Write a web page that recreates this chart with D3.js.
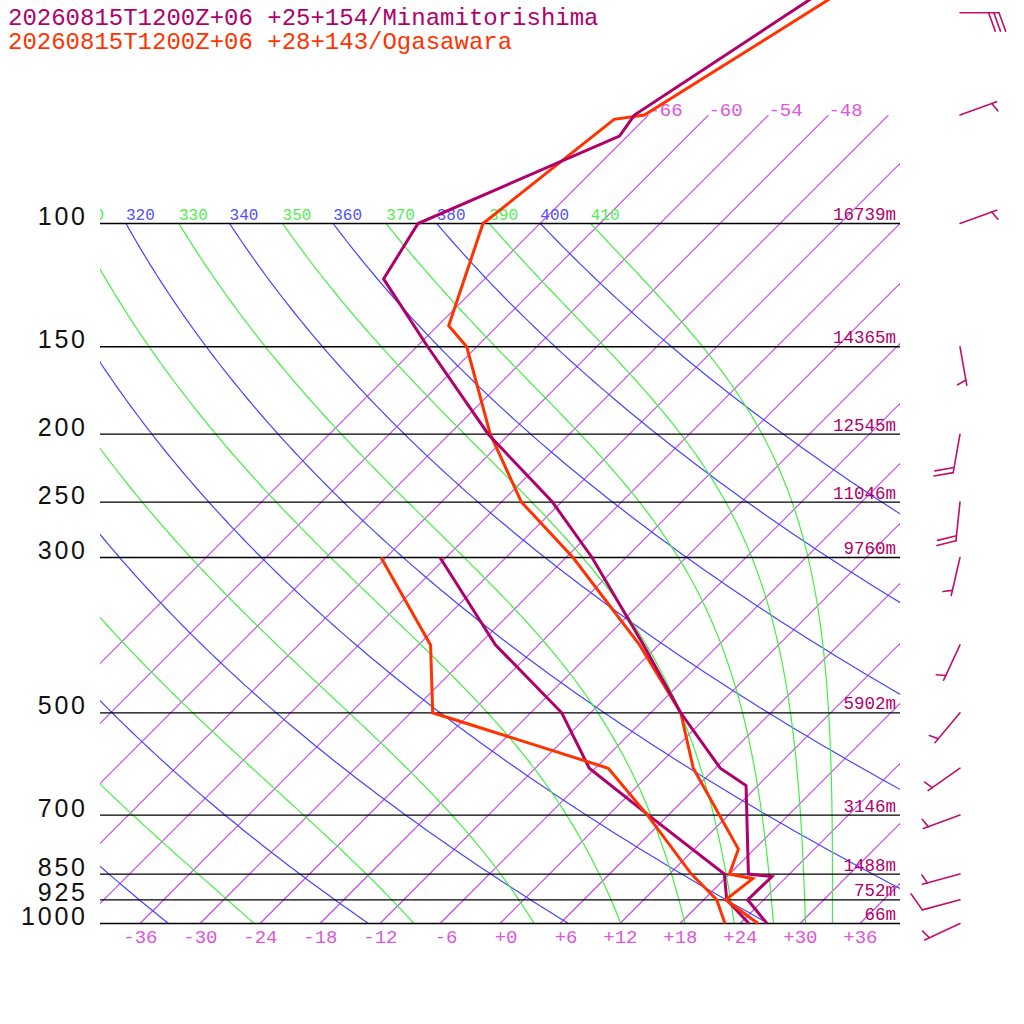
<!DOCTYPE html>
<html><head><meta charset="utf-8">
<script src="https://cdn.jsdelivr.net/npm/d3@7"></script>
<style>
html,body{margin:0;padding:0;background:#fff;}
svg{display:block;}
.mono{font-family:"Liberation Mono","DejaVu Sans Mono",monospace;}
.plab{font-family:"Liberation Sans","Arial",sans-serif;}
</style></head>
<body>
<script>
// ---------------- data ----------------
const titles = ["20260815T1200Z+06 +25+154/Minamitorishima", "20260815T1200Z+06 +28+143/Ogasawara"];
const pressureLevels = [100, 150, 200, 250, 300, 500, 700, 850, 925, 1000];
const heightLabels = ["16739m", "14365m", "12545m", "11046m", "9760m", "5902m", "3146m", "1488m", "752m", "66m"];
const isotherms = [-66, -60, -54, -48, -42, -36, -30, -24, -18, -12, -6, 0, 6, 12, 18, 24, 30, 36];
const isothermTopLabels = [-66, -60, -54, -48];
const bottomTicks = [-36, -30, -24, -18, -12, -6, 0, 6, 12, 18, 24, 30, 36];
const dryAdiabats = [240, 260, 280, 300, 320, 340, 360, 380, 400];
const moistAdiabats = [250, 270, 290, 310, 330, 350, 370, 390, 410];
const dryLabels = [320, 340, 360, 380, 400];
const moistLabels = [310, 330, 350, 370, 390, 410];

// Minamitorishima
const s1TempP = [1000, 925, 857, 850, 635, 600, 500, 400, 300, 250, 200, 150, 120, 100, 75, 70, 50, 30];
const s1Temp  = [26.7, 22.4, 22.5, 19.9, 10.8, 6.5, -3.0, -13.5, -27.4, -36.9, -50.1, -64.9, -76.1, -78.2, -66.8, -67.4, -62.1, -54.0];
const s1DewP  = [1000, 925, 850, 700, 600, 500, 400, 300];
const s1Dew   = [24.9, 20.3, 17.5, 4.0, -6.6, -14.9, -28.3, -42.6];
// Ogasawara
const s2TempP = [1000, 925, 863, 850, 783, 600, 500, 400, 300, 250, 200, 150, 140, 100, 71, 70, 50, 30];
const s2Temp  = [25.8, 20.2, 20.8, 18.0, 16.4, 3.8, -3.0, -13.9, -29.3, -40.0, -49.9, -61.0, -64.9, -71.7, -69.0, -66.4, -60.3, -51.2];
const s2DewP  = [1000, 925, 850, 700, 600, 500, 400, 300];
const s2Dew   = [22.5, 19.3, 14.2, 3.9, -4.7, -27.8, -34.8, -48.5];
// winds (Minamitorishima)
const windP   = [1000, 925, 850, 700, 600, 500, 400, 300, 250, 200, 150, 100, 70, 50];
const windDir = [245, 255, 255, 250, 235, 220, 205, 193, 186, 190, 170, 70, 70, 90];
const windSpd = [5, 10, 5, 5, 5, 5, 5, 5, 20, 20, 5, 5, 5, 30];

const colS1 = "#b0006a", colS2 = "#ff3300";
const colIso = "#c840f0", colIsoTxt = "#dd55dd", colDry = "#4444ff", colMoist = "#44ee44";

// ---------------- scales ----------------
const yScale = d3.scaleLog().domain([1000, 100]).range([923.5, 223.5]);
const tScale = d3.scaleLinear().domain([0, 10]).range([500, 600]);
const skewX = (T, p) => tScale(T) + (yScale(1000) - yScale(p));

const svg = d3.select("body").append("svg").attr("width", 1024).attr("height", 1024);
svg.append("rect").attr("width", 1024).attr("height", 1024).attr("fill", "#fff");
const defs = svg.append("defs");
defs.append("clipPath").attr("id", "plot").append("rect").attr("x", 100).attr("y", 0).attr("width", 800).attr("height", 924);

const grid = svg.append("g").attr("clip-path", "url(#plot)");
const line = d3.line().x(d => skewX(d.T, d.p)).y(d => yScale(d.p));

// sampling pressures for curves
const logP = d3.range(0, 121).map(i => Math.exp(Math.log(1000) + (Math.log(100) - Math.log(1000)) * i / 120));

// isotherms (1000 -> 70 hPa)
isotherms.forEach(T => {
  grid.append("path").attr("d", line([{T, p: 1000}, {T, p: 70}]))
    .attr("fill", "none").attr("stroke", colIso).attr("stroke-width", 1.1);
});

// dry adiabats
const K = 273.15;
dryAdiabats.forEach(th => {
  const pts = logP.map(p => ({p, T: th * Math.pow(p / 1000, 0.2857) - K}));
  grid.append("path").attr("d", line(pts)).attr("fill", "none").attr("stroke", colDry).attr("stroke-width", 1.2);
});

// moist adiabats (Bolton theta-e)
function thetaE(Tk, p) {
  const Tc = Tk - K;
  const es = 6.112 * Math.exp(17.67 * Tc / (Tc + 243.5));
  if (es >= p * 0.9) return 1e9;
  const r = 622 * es / (p - es);
  return Tk * Math.pow(1000 / p, 0.2854 * (1 - 0.28e-3 * r)) * Math.exp((3.376 / Tk - 0.00254) * r * (1 + 0.81e-3 * r));
}
function moistT(te, p) {
  let lo = 120, hi = 340;
  for (let i = 0; i < 60; i++) {
    const mid = (lo + hi) / 2;
    if (thetaE(mid, p) > te) hi = mid; else lo = mid;
  }
  return (lo + hi) / 2 - K;
}
moistAdiabats.forEach(te => {
  const pts = logP.map(p => ({p, T: moistT(te, p)}));
  grid.append("path").attr("d", line(pts)).attr("fill", "none").attr("stroke", colMoist).attr("stroke-width", 1.2);
});

// pressure lines
pressureLevels.forEach(p => {
  svg.append("line").attr("x1", 100).attr("x2", 900).attr("y1", yScale(p)).attr("y2", yScale(p))
    .attr("stroke", "#000").attr("stroke-width", 1.3);
});

// theta labels at 100 hPa
const labG = svg.append("g").attr("clip-path", "url(#plot)");
dryLabels.forEach(th => {
  labG.append("text").attr("class", "mono").attr("x", skewX(th * Math.pow(0.1, 0.2857) - K, 100)).attr("y", 219.5)
    .attr("font-size", 16).attr("fill", "#5050ff").text(th);
});
moistLabels.forEach(te => {
  labG.append("text").attr("class", "mono").attr("x", skewX(moistT(te, 100), 100)).attr("y", 219.5)
    .attr("font-size", 16).attr("fill", "#50ee50").text(te);
});
// isotherm labels at top (70 hPa)
isothermTopLabels.forEach(T => {
  svg.append("text").attr("class", "mono").attr("x", skewX(T, 70)).attr("y", yScale(70) + 1)
    .attr("font-size", 19).attr("fill", colIsoTxt).text(T > 0 ? "+" + T : (T === 0 ? "+0" : String(T)));
});
// bottom ticks
bottomTicks.forEach(T => {
  svg.append("text").attr("class", "mono").attr("x", skewX(T, 1000) + 17.5).attr("y", 943)
    .attr("text-anchor", "end").attr("font-size", 19).attr("fill", colIsoTxt)
    .text(T >= 0 ? "+" + T : String(T));
});
// pressure labels
pressureLevels.forEach(p => {
  svg.append("text").attr("class", "plab").attr("x", 87.8).attr("y", yScale(p) + 1.5)
    .attr("text-anchor", "end").attr("font-size", 25).attr("letter-spacing", 2.8).attr("fill", "#111").text(p);
});
// height labels
pressureLevels.forEach((p, i) => {
  svg.append("text").attr("class", "mono").attr("x", 896).attr("y", yScale(p) - 3.5)
    .attr("text-anchor", "end").attr("font-size", 17.5).attr("fill", colS1).text(heightLabels[i]);
});

// profiles
function profile(P, T, col) {
  const pts = P.map((p, i) => ({p, T: T[i]}));
  svg.append("path").attr("d", line(pts)).attr("fill", "none").attr("stroke", col)
    .attr("stroke-width", 3).attr("stroke-linejoin", "miter");
}
profile(s1DewP, s1Dew, colS1);
profile(s2DewP, s2Dew, colS2);
profile(s2TempP, s2Temp, colS2);
profile(s1TempP, s1Temp, colS1);

// titles
svg.append("text").attr("class", "mono").attr("x", 8).attr("y", 25).attr("font-size", 24).attr("fill", colS1).text(titles[0]);
svg.append("text").attr("class", "mono").attr("x", 8).attr("y", 49).attr("font-size", 24).attr("fill", colS2).text(titles[1]);

// wind barbs
const bx = 960, staffLen = 39, fullLen = 19.5, halfLen = 9.5, gap = 5.2, tilt = 70 * Math.PI / 180;
const barbG = svg.append("g").attr("stroke", "#c0106a").attr("stroke-width", 1.6).attr("fill", "none").attr("stroke-linecap", "round");
windP.forEach((p, i) => {
  const y0 = yScale(p);
  const a = windDir[i] * Math.PI / 180;
  const ux = Math.sin(a), uy = -Math.cos(a);
  const ex = bx + ux * staffLen, ey = y0 + uy * staffLen;
  barbG.append("line").attr("x1", bx).attr("y1", y0).attr("x2", ex).attr("y2", ey);
  const ang = Math.atan2(uy, ux) + tilt;
  const bxv = Math.cos(ang), byv = Math.sin(ang);
  let spd = windSpd[i];
  let full = Math.floor(spd / 10), half = Math.round((spd - full * 10) / 5);
  let pos = staffLen;
  if (full === 0 && half === 1) pos = staffLen - gap;
  for (let k = 0; k < full; k++) {
    const sx = bx + ux * pos, sy = y0 + uy * pos;
    barbG.append("line").attr("x1", sx).attr("y1", sy).attr("x2", sx + bxv * fullLen).attr("y2", sy + byv * fullLen);
    pos -= gap;
  }
  for (let k = 0; k < half; k++) {
    const sx = bx + ux * pos, sy = y0 + uy * pos;
    barbG.append("line").attr("x1", sx).attr("y1", sy).attr("x2", sx + bxv * halfLen).attr("y2", sy + byv * halfLen);
    pos -= gap;
  }
});
</script>
</body></html>
